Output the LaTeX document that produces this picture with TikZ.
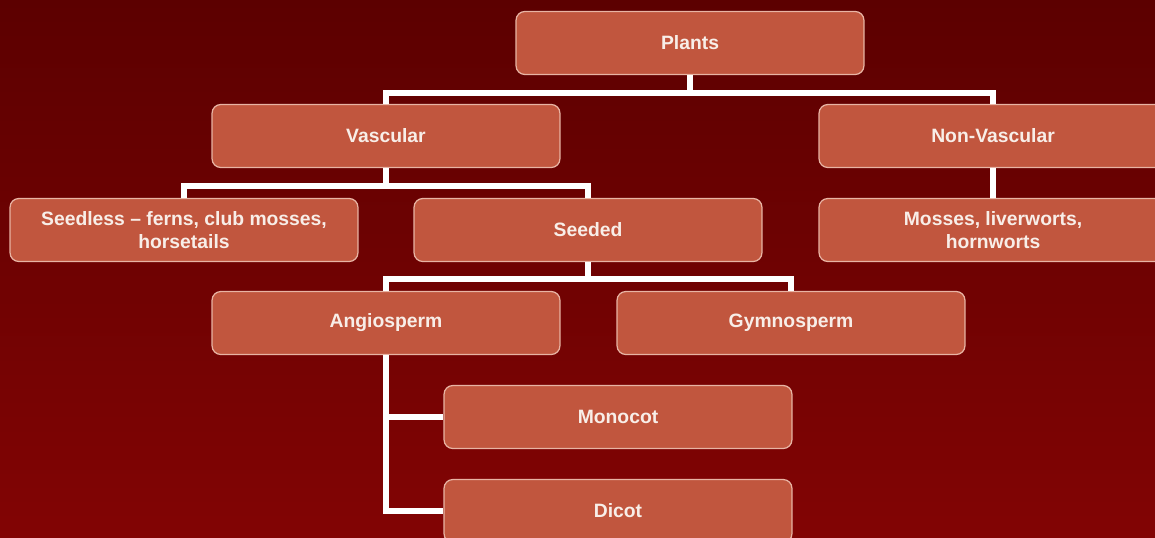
\documentclass[tikz,border=0pt]{standalone}
\usepackage{fontspec}
\setmainfont{Liberation Sans}
\usepackage{tikz}
\usetikzlibrary{positioning, calc}

\definecolor{bgtop}{HTML}{5C0000}
\definecolor{bgbot}{HTML}{820404}
\definecolor{boxfill}{HTML}{C1563E}
\definecolor{boxline}{HTML}{E8B4A4}
\definecolor{boxtext}{HTML}{F8EEE8}

\tikzset{
  taxon/.style={draw=boxline, line width=0.7pt, fill=boxfill, rounded corners=5pt,
    minimum width=6.96cm, minimum height=1.26cm, text=boxtext, align=center,
    font=\fontsize{11}{13}\selectfont\bfseries, inner sep=2pt},
  link/.style={draw=white, line width=3.4pt, line join=miter}
}

\begin{document}
\begin{tikzpicture}[x=0.02cm, y=-0.02cm]
  % background
  \clip (0,0) rectangle (1155,537);
  \useasboundingbox (0,0) rectangle (1155,537);
  \shade[top color=bgtop, bottom color=bgbot] (0,0) rectangle (1155,537);

  % boxes
  \node[taxon] (plants)   at (690,43)  {Plants};
  \node[taxon] (vasc)     at (386,136) {Vascular};
  \node[taxon] (nonvasc)  at (993,136) {Non-Vascular};
  \node[taxon] (seedless) at (184,230) {Seedless -- ferns, club mosses,\\horsetails};
  \node[taxon] (seeded)   at (588,230) {Seeded};
  \node[taxon] (mosses)   at (993,230) {Mosses, liverworts,\\hornworts};
  \node[taxon] (angio)    at (386,323) {Angiosperm};
  \node[taxon] (gymno)    at (791,323) {Gymnosperm};
  \node[taxon] (monocot)  at (618,417) {Monocot};
  \node[taxon] (dicot)    at (618,511) {Dicot};

  % connectors
  \path[link] (plants.south) -- ++(0,18) coordinate (bus1);
  \path[link] (vasc.north) |- (bus1) -| (nonvasc.north);
  \path[link] (vasc.south) -- ++(0,18) coordinate (bus2);
  \path[link] (seedless.north) |- (bus2) -| (seeded.north);
  \path[link] (seeded.south) -- ++(0,17) coordinate (bus3);
  \path[link] (angio.north) |- (bus3) -| (gymno.north);
  \path[link] (nonvasc.south) -- (mosses.north);
  \path[link] (angio.south) |- (dicot.west);
  \path[link] (angio.south |- monocot.west) -- (monocot.west);
\end{tikzpicture}
\end{document}
